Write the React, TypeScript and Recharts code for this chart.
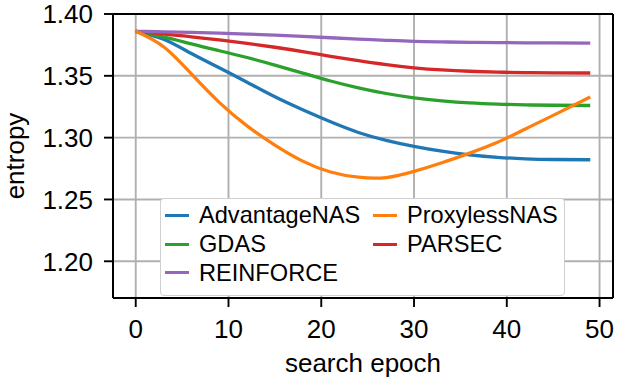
import React from "react";
import { LineChart, Line, XAxis, YAxis, CartesianGrid, Legend } from "recharts";

const EPOCHS = [0, 3, 6, 9, 12, 15, 18, 21, 24, 27, 30, 33, 36, 39, 42, 45, 49];

const ADVANTAGE_NAS = [1.386, 1.3795, 1.368, 1.3565, 1.3448, 1.333, 1.3225, 1.3128, 1.3042, 1.2978, 1.2929, 1.289, 1.2861, 1.2841, 1.2829, 1.2823, 1.2821];
const PROXYLESS_NAS = [1.386, 1.3735, 1.3515, 1.3285, 1.3095, 1.294, 1.281, 1.2722, 1.268, 1.2677, 1.2727, 1.2797, 1.2875, 1.2962, 1.307, 1.318, 1.3328];
const GDAS = [1.386, 1.3815, 1.3758, 1.3703, 1.3648, 1.3587, 1.3522, 1.3458, 1.3403, 1.3357, 1.3322, 1.3298, 1.3281, 1.3271, 1.3265, 1.3262, 1.326];
const PARSEC = [1.386, 1.384, 1.3815, 1.379, 1.3762, 1.3731, 1.3696, 1.3658, 1.3622, 1.359, 1.3565, 1.3548, 1.3537, 1.353, 1.3526, 1.3524, 1.3523];
const REINFORCE = [1.386, 1.3856, 1.3851, 1.3846, 1.3838, 1.3829, 1.3819, 1.3808, 1.3797, 1.3787, 1.3778, 1.3774, 1.3771, 1.3769, 1.3767, 1.3766, 1.3765];

const X_TICKS = [0, 10, 20, 30, 40, 50];
const Y_TICKS = [1.2, 1.25, 1.3, 1.35, 1.4];

// legend is filled column-wise like matplotlib ncol=2
const LEGEND_ORDER = ["AdvantageNAS", "GDAS", "REINFORCE", "ProxylessNAS", "PARSEC"];

const SERIES = [
  { key: "advantage", name: "AdvantageNAS", color: "#1f77b4", values: ADVANTAGE_NAS },
  { key: "gdas", name: "GDAS", color: "#2ca02c", values: GDAS },
  { key: "parsec", name: "PARSEC", color: "#d62728", values: PARSEC },
  { key: "reinforce", name: "REINFORCE", color: "#9467bd", values: REINFORCE },
  { key: "proxyless", name: "ProxylessNAS", color: "#ff7f0e", values: PROXYLESS_NAS },
];

const data = EPOCHS.map((epoch, i) => {
  const row: Record<string, number> = { epoch };
  SERIES.forEach((s) => {
    row[s.key] = s.values[i];
  });
  return row;
});

const FONT = '"Liberation Sans", Arial, Helvetica, sans-serif';
const TICK_STYLE = { fill: "#000", fontSize: 26, fontFamily: FONT };

function XTitle(props: any) {
  const { x, y, width, height } = props.viewBox;
  return (
    <text x={x + width / 2} y={y + height - 5.5} textAnchor="middle" fill="#000" fontSize={26} fontFamily={FONT}>
      search epoch
    </text>
  );
}

function YTitle(props: any) {
  const { x, y, height } = props.viewBox;
  const cx = x + 24;
  const cy = y + height / 2;
  return (
    <text x={cx} y={cy} transform={`rotate(-90, ${cx}, ${cy})`} textAnchor="middle" fill="#000" fontSize={26} fontFamily={FONT}>
      entropy
    </text>
  );
}

function LegendBox({ payload }: any) {
  const items = [...(payload || [])].sort(
    (a: any, b: any) => LEGEND_ORDER.indexOf(a.value) - LEGEND_ORDER.indexOf(b.value)
  );
  return (
    <div
      style={{
        boxSizing: "border-box",
        width: 405,
        height: 98,
        background: "#fff",
        border: "1px solid #d0d0d0",
        borderRadius: 4,
        padding: "2px 0 0 4px",
        display: "grid",
        gridTemplateColumns: "208px auto",
        gridTemplateRows: "repeat(3, 28.8px)",
        gridAutoFlow: "column",
        fontFamily: FONT,
        fontSize: 23.6,
        color: "#000",
      }}
    >
      {items.map((item: any) => (
        <div key={item.value} style={{ display: "flex", alignItems: "center", lineHeight: "28.8px" }}>
          <span style={{ display: "inline-block", width: 24, height: 3, background: item.color, marginRight: 10 }} />
          <span>{item.value}</span>
        </div>
      ))}
    </div>
  );
}

export default function App() {
  return (
    <div style={{ position: "absolute", left: 0, top: 0, background: "#fff" }}>
      <LineChart width={621} height={377} data={data} margin={{ top: 0, right: 0, bottom: 0, left: 0 }}>
        <CartesianGrid stroke="#b0b0b0" strokeWidth={1.9} />
        <XAxis
          dataKey="epoch"
          type="number"
          domain={[-2.45, 51.45]}
          ticks={X_TICKS}
          interval={0}
          allowDataOverflow
          height={79}
          tickSize={9}
          tickMargin={13}
          tick={TICK_STYLE}
          tickLine={{ stroke: "#000", strokeWidth: 1.9 }}
          axisLine={{ stroke: "#000", strokeWidth: 2 }}
          label={<XTitle />}
        />
        <XAxis xAxisId="top" orientation="top" dataKey="epoch" type="number" domain={[-2.45, 51.45]} height={14} tick={false} tickLine={false} axisLine={{ stroke: "#000", strokeWidth: 2 }} />
        <YAxis
          type="number"
          domain={[1.1703, 1.4]}
          ticks={Y_TICKS}
          interval={0}
          allowDataOverflow
          width={113}
          tickSize={9}
          tickMargin={11}
          tick={TICK_STYLE}
          tickFormatter={(v: number) => v.toFixed(2)}
          tickLine={{ stroke: "#000", strokeWidth: 1.9 }}
          axisLine={{ stroke: "#000", strokeWidth: 2 }}
          label={<YTitle />}
        />
        <YAxis yAxisId="right" orientation="right" type="number" domain={[1.1703, 1.4]} width={8} tick={false} tickLine={false} axisLine={{ stroke: "#000", strokeWidth: 2 }} />
        {SERIES.map((s) => (
          <Line
            key={s.key}
            dataKey={s.key}
            name={s.name}
            type="natural"
            stroke={s.color}
            strokeWidth={3.3}
            dot={false}
            isAnimationActive={false}
          />
        ))}
        <Legend
          layout="horizontal"
          verticalAlign="middle"
          align="center"
          content={<LegendBox />}
          wrapperStyle={{ left: 160, top: 198, width: 405, height: 98 }}
        />
      </LineChart>
    </div>
  );
}
